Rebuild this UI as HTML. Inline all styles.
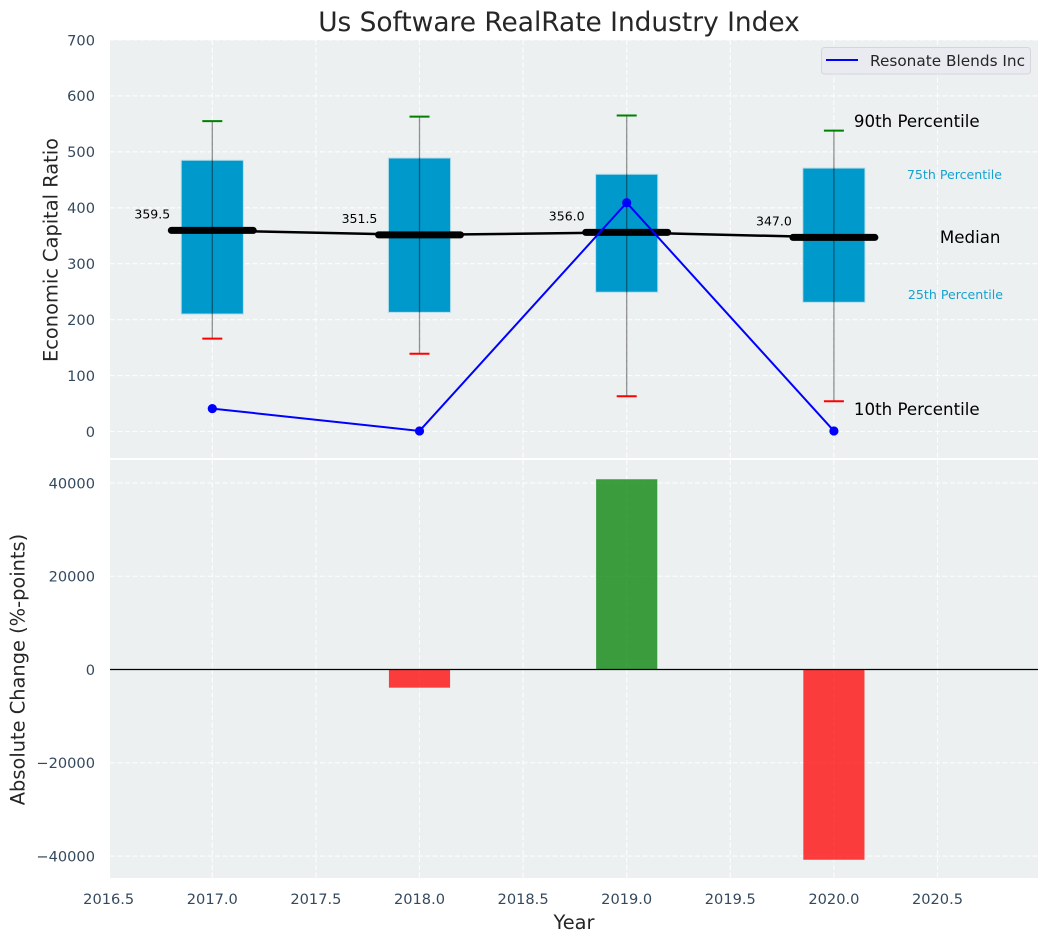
<!DOCTYPE html>
<html>
<head>
<meta charset="utf-8">
<style>
html,body{margin:0;padding:0;background:#fff;width:1048px;height:942px;overflow:hidden}
svg{display:block;font-family:"DejaVu Sans","Liberation Sans",sans-serif}
</style>
</head>
<body>
<svg id="chart" width="1048" height="942" viewBox="0 0 1048 942" xmlns="http://www.w3.org/2000/svg"></svg>
<script>
const years = [2017, 2018, 2019, 2020];
const p90 = [555, 563, 565, 538];
const p75 = [485, 489, 460, 471];
const medians = [359.5, 351.5, 356.0, 347.0];
const p25 = [210, 213, 249, 231];
const p10 = [166, 139, 63, 54];
const companyValues = [41, 1, 409, 1];
const changes = [0, -3900, 40800, -40800];
const xTicks = [2016.5, 2017.0, 2017.5, 2018.0, 2018.5, 2019.0, 2019.5, 2020.0, 2020.5];
const topTicks = [0, 100, 200, 300, 400, 500, 600, 700];
const bottomTicks = [-40000, -20000, 0, 20000, 40000];
const companyName = 'Resonate Blends Inc';

const xScale = v => 212.3 + (v - 2017) * 207.2;
const yTop = v => 431.5 - v * 0.5593;
const yBottom = v => 669.5 - v * 0.004663;

const svg = document.getElementById('chart');
function add(tag, attrs, text) {
  const el = document.createElementNS('http://www.w3.org/2000/svg', tag);
  for (const k in attrs) el.setAttribute(k, attrs[k]);
  if (text !== undefined) el.textContent = text;
  svg.appendChild(el);
  return el;
}
function name(el, n, i) {
  
  
  return el;
}

const L = 110, R = 1038, T1 = 40, B1 = 458, T2 = 460, B2 = 878;
const DASH = '5 2.5';
name(add('rect', {x: L, y: T1, width: R - L, height: B1 - T1, fill: '#ecf0f1'}), 'top-plot-area');
name(add('rect', {x: L, y: T2, width: R - L, height: B2 - T2, fill: '#ecf0f1'}), 'bottom-plot-area');

xTicks.forEach(t => {
  const x = xScale(t);
  if (x > L + 1) {
    name(add('line', {x1: x, x2: x, y1: T1, y2: B1, stroke: '#fff', 'stroke-width': 1.1, 'stroke-dasharray': DASH, opacity: 0.9}), 'top-x-gridline');
    name(add('line', {x1: x, x2: x, y1: T2, y2: B2, stroke: '#fff', 'stroke-width': 1.1, 'stroke-dasharray': DASH, opacity: 0.9}), 'bottom-x-gridline');
  }
  name(add('text', {x: x, y: 904, 'text-anchor': 'middle', 'font-size': 14.6, fill: '#34495e'}, t.toFixed(1)), 'x-tick-label');
});
topTicks.forEach(t => {
  const y = yTop(t);
  name(add('line', {x1: L, x2: R, y1: y, y2: y, stroke: '#fff', 'stroke-width': 1.1, 'stroke-dasharray': DASH, opacity: 0.9}), 'top-y-gridline');
  name(add('text', {x: 95, y: y + 5.3, 'text-anchor': 'end', 'font-size': 14.6, fill: '#34495e'}, String(t)), 'top-y-tick-label');
});
bottomTicks.forEach(t => {
  const y = yBottom(t);
  name(add('line', {x1: L, x2: R, y1: y, y2: y, stroke: '#fff', 'stroke-width': 1.1, 'stroke-dasharray': DASH, opacity: 0.9}), 'bottom-y-gridline');
  name(add('text', {x: 95, y: y + 5.3, 'text-anchor': 'end', 'font-size': 14.6, fill: '#34495e'}, String(t).replace('-', '\u2212')), 'bottom-y-tick-label');
});

/* boxes, whiskers */
years.forEach((yr, i) => {
  const cx = xScale(yr), w = 0.3 * 207.2;
  name(add('rect', {x: cx - w / 2, y: yTop(p75[i]), width: w, height: yTop(p25[i]) - yTop(p75[i]), fill: '#0099cc', stroke: '#b9dfea', 'stroke-width': 1}), 'iqr-box-' + yr);
  name(add('line', {x1: cx, x2: cx, y1: yTop(p90[i]), y2: yTop(p10[i]), stroke: '#000', 'stroke-opacity': 0.42, 'stroke-width': 1.3}), 'whisker-' + yr);
  name(add('line', {x1: cx - 10, x2: cx + 10, y1: yTop(p90[i]), y2: yTop(p90[i]), stroke: '#008000', 'stroke-width': 2}), 'p90-cap-' + yr);
  name(add('line', {x1: cx - 10, x2: cx + 10, y1: yTop(p10[i]), y2: yTop(p10[i]), stroke: '#ff0000', 'stroke-width': 2}), 'p10-cap-' + yr);
});

/* median connector and thick median bars */
name(add('polyline', {points: years.map((yr, i) => xScale(yr) + ',' + yTop(medians[i])).join(' '), fill: 'none', stroke: '#000', 'stroke-width': 2.5}), 'median-line');
years.forEach((yr, i) => {
  const cx = xScale(yr), y = yTop(medians[i]);
  name(add('line', {x1: cx - 41, x2: cx + 41, y1: y, y2: y, stroke: '#000', 'stroke-width': 7, 'stroke-linecap': 'round'}), 'median-bar-' + yr);
  name(add('text', {x: cx - 60, y: y - 12, 'text-anchor': 'middle', 'font-size': 12.5, fill: '#000'}, medians[i].toFixed(1)), 'median-value-' + yr);
});

/* company series */
name(add('polyline', {points: years.map((yr, i) => xScale(yr) + ',' + yTop(companyValues[i])).join(' '), fill: 'none', stroke: '#0000ff', 'stroke-width': 2}), 'company-line');
years.forEach((yr, i) => {
  name(add('circle', {cx: xScale(yr), cy: yTop(companyValues[i]), r: 4.6, fill: '#0000ff'}), 'company-point-' + yr);
});

/* percentile annotations */
const lastX = xScale(years[years.length - 1]);
name(add('text', {x: lastX + 20, y: 127, 'font-size': 16.67, fill: '#000'}, '90th Percentile'), 'p90-annotation');
name(add('text', {x: lastX + 73, y: 179, 'font-size': 12.6, fill: '#0099cc', opacity: 0.9}, '75th Percentile'), 'p75-annotation');
name(add('text', {x: lastX + 106, y: 243, 'font-size': 16.67, fill: '#000'}, 'Median'), 'median-annotation');
name(add('text', {x: lastX + 74, y: 299, 'font-size': 12.6, fill: '#0099cc', opacity: 0.9}, '25th Percentile'), 'p25-annotation');
name(add('text', {x: lastX + 20, y: 415, 'font-size': 16.67, fill: '#000'}, '10th Percentile'), 'p10-annotation');

/* legend */
name(add('rect', {x: 821.5, y: 47.5, width: 209, height: 26.5, rx: 3, fill: '#eaebf1', stroke: '#d5d5dd', 'stroke-width': 1}), 'legend-box', true);
name(add('line', {x1: 826, x2: 858, y1: 60, y2: 60, stroke: '#0000ff', 'stroke-width': 2}), 'legend-line');
name(add('text', {x: 870, y: 66, 'font-size': 15.3, fill: '#262626'}, companyName), 'legend-label');

/* change bars */
years.forEach((yr, i) => {
  if (!changes[i]) return;
  const cx = xScale(yr), w = 0.3 * 207.2 - 1;
  const y0 = yBottom(0), y1 = yBottom(changes[i]);
  name(add('rect', {x: cx - w / 2, y: Math.min(y0, y1), width: w, height: Math.abs(y1 - y0), fill: changes[i] > 0 ? '#008000' : '#ff0000', 'fill-opacity': 0.75}), 'change-bar-' + yr);
});
name(add('line', {x1: L, x2: R, y1: yBottom(0), y2: yBottom(0), stroke: '#000', 'stroke-width': 1.2}), 'zero-line');

/* titles */
name(add('text', {x: 559, y: 31, 'text-anchor': 'middle', 'font-size': 26.4, fill: '#262626'}, 'Us Software RealRate Industry Index'), 'chart-title');
name(add('text', {x: 574, y: 929, 'text-anchor': 'middle', 'font-size': 19.4, fill: '#262626'}, 'Year'), 'x-axis-title');
name(add('text', {x: 57.5, y: 250, 'text-anchor': 'middle', 'font-size': 19.4, fill: '#262626', transform: 'rotate(-90 57.5 250)'}, 'Economic Capital Ratio'), 'top-y-axis-title');
name(add('text', {x: 24.5, y: 669.5, 'text-anchor': 'middle', 'font-size': 19.4, fill: '#262626', transform: 'rotate(-90 24.5 669.5)'}, 'Absolute Change (%-points)'), 'bottom-y-axis-title');
</script>
</body>
</html>
